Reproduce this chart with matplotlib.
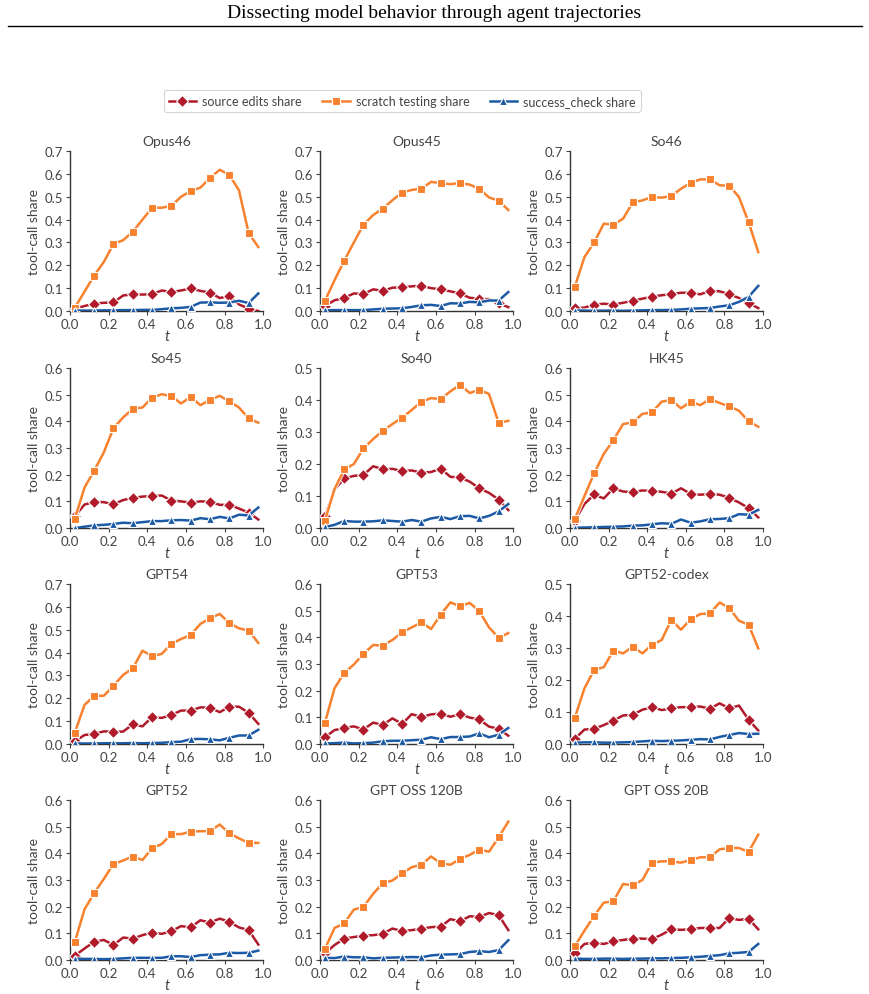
#!/usr/bin/env python
"""Tool-call share over normalized trajectory time, one panel per model."""
import matplotlib
matplotlib.use("Agg")
import matplotlib.pyplot as plt
from matplotlib.lines import Line2D

t = [0.025, 0.075, 0.125, 0.175, 0.225, 0.275, 0.325, 0.375, 0.425, 0.475,
     0.525, 0.575, 0.625, 0.675, 0.725, 0.775, 0.825, 0.875, 0.925, 0.975]

models = ["Opus46", "Opus45", "So46", "So45", "So40", "HK45",
          "GPT54", "GPT53", "GPT52-codex", "GPT52", "GPT OSS 120B", "GPT OSS 20B"]
ymax = [0.7, 0.7, 0.7, 0.6, 0.5, 0.6, 0.7, 0.6, 0.5, 0.6, 0.6, 0.6]

# source edits share
src = {
    "Opus46": [0.010, 0.022, 0.032, 0.036, 0.038, 0.068, 0.073, 0.072, 0.074, 0.090,
               0.083, 0.090, 0.099, 0.088, 0.081, 0.057, 0.065, 0.029, 0.010, 0.000],
    "Opus45": [0.022, 0.047, 0.057, 0.077, 0.074, 0.095, 0.088, 0.102, 0.104, 0.108,
               0.111, 0.100, 0.095, 0.086, 0.077, 0.058, 0.054, 0.052, 0.034, 0.017],
    "So46": [0.012, 0.015, 0.028, 0.032, 0.028, 0.036, 0.045, 0.054, 0.063, 0.069,
             0.074, 0.080, 0.080, 0.073, 0.089, 0.086, 0.074, 0.057, 0.034, 0.013],
    "So45": [0.045, 0.088, 0.098, 0.097, 0.089, 0.105, 0.113, 0.118, 0.120, 0.122,
             0.103, 0.100, 0.095, 0.100, 0.099, 0.087, 0.087, 0.073, 0.058, 0.032],
    "So40": [0.037, 0.120, 0.155, 0.163, 0.166, 0.193, 0.184, 0.185, 0.178, 0.180,
             0.173, 0.175, 0.186, 0.160, 0.158, 0.145, 0.124, 0.110, 0.089, 0.056],
    "HK45": [0.028, 0.090, 0.126, 0.111, 0.149, 0.137, 0.134, 0.141, 0.139, 0.136,
             0.129, 0.149, 0.128, 0.125, 0.128, 0.125, 0.113, 0.096, 0.075, 0.040],
    "GPT54": [0.012, 0.039, 0.044, 0.055, 0.054, 0.054, 0.086, 0.077, 0.118, 0.114,
              0.127, 0.146, 0.146, 0.160, 0.159, 0.139, 0.163, 0.163, 0.136, 0.088],
    "GPT53": [0.025, 0.052, 0.060, 0.066, 0.054, 0.080, 0.071, 0.096, 0.075, 0.112,
              0.100, 0.111, 0.114, 0.102, 0.112, 0.099, 0.092, 0.065, 0.057, 0.031],
    "GPT52-codex": [0.016, 0.045, 0.047, 0.059, 0.073, 0.089, 0.091, 0.107, 0.115, 0.106,
                    0.111, 0.115, 0.115, 0.117, 0.110, 0.127, 0.111, 0.120, 0.076, 0.042],
    "GPT52": [0.016, 0.043, 0.068, 0.075, 0.056, 0.084, 0.080, 0.093, 0.103, 0.098,
              0.108, 0.127, 0.122, 0.149, 0.140, 0.155, 0.143, 0.122, 0.112, 0.058],
    "GPT OSS 120B": [0.025, 0.056, 0.080, 0.086, 0.091, 0.093, 0.098, 0.118, 0.108, 0.112,
                     0.117, 0.123, 0.125, 0.153, 0.145, 0.164, 0.161, 0.176, 0.168, 0.112],
    "GPT OSS 20B": [0.025, 0.060, 0.065, 0.060, 0.070, 0.075, 0.080, 0.080, 0.078, 0.095,
                    0.115, 0.113, 0.115, 0.120, 0.120, 0.120, 0.158, 0.150, 0.155, 0.115],
}

# scratch testing share
scratch = {
    "Opus46": [0.015, 0.085, 0.155, 0.215, 0.293, 0.310, 0.347, 0.400, 0.452, 0.452,
               0.460, 0.500, 0.525, 0.540, 0.582, 0.618, 0.596, 0.528, 0.341, 0.280],
    "Opus45": [0.044, 0.135, 0.220, 0.300, 0.378, 0.420, 0.448, 0.485, 0.518, 0.530,
               0.535, 0.565, 0.560, 0.555, 0.560, 0.553, 0.535, 0.497, 0.483, 0.442],
    "So46": [0.106, 0.236, 0.300, 0.382, 0.378, 0.404, 0.475, 0.484, 0.499, 0.496,
             0.503, 0.535, 0.561, 0.576, 0.576, 0.550, 0.548, 0.499, 0.389, 0.258],
    "So45": [0.035, 0.152, 0.215, 0.284, 0.375, 0.415, 0.447, 0.452, 0.489, 0.502,
             0.494, 0.467, 0.492, 0.461, 0.480, 0.496, 0.475, 0.452, 0.411, 0.395],
    "So40": [0.023, 0.122, 0.183, 0.200, 0.249, 0.278, 0.304, 0.325, 0.345, 0.369,
             0.395, 0.406, 0.403, 0.427, 0.448, 0.422, 0.432, 0.419, 0.329, 0.335],
    "HK45": [0.034, 0.120, 0.205, 0.278, 0.330, 0.390, 0.396, 0.428, 0.434, 0.474,
             0.480, 0.449, 0.474, 0.461, 0.484, 0.469, 0.456, 0.440, 0.400, 0.380],
    "GPT54": [0.050, 0.171, 0.210, 0.211, 0.255, 0.302, 0.331, 0.408, 0.384, 0.394,
              0.438, 0.459, 0.477, 0.525, 0.550, 0.569, 0.529, 0.506, 0.496, 0.442],
    "GPT53": [0.079, 0.209, 0.266, 0.298, 0.338, 0.371, 0.369, 0.390, 0.419, 0.437,
              0.456, 0.431, 0.485, 0.531, 0.516, 0.529, 0.498, 0.437, 0.398, 0.416],
    "GPT52-codex": [0.082, 0.174, 0.231, 0.240, 0.292, 0.283, 0.304, 0.283, 0.310, 0.325,
                    0.388, 0.357, 0.390, 0.406, 0.408, 0.442, 0.425, 0.385, 0.373, 0.299],
    "GPT52": [0.068, 0.190, 0.251, 0.304, 0.360, 0.373, 0.388, 0.375, 0.419, 0.435,
              0.472, 0.472, 0.481, 0.483, 0.483, 0.508, 0.475, 0.456, 0.439, 0.439],
    "GPT OSS 120B": [0.041, 0.120, 0.137, 0.189, 0.199, 0.248, 0.288, 0.298, 0.325, 0.348,
                     0.357, 0.388, 0.363, 0.357, 0.379, 0.394, 0.414, 0.406, 0.460, 0.519],
    "GPT OSS 20B": [0.052, 0.110, 0.165, 0.215, 0.220, 0.285, 0.280, 0.300, 0.365, 0.370,
                    0.370, 0.365, 0.375, 0.385, 0.385, 0.415, 0.420, 0.420, 0.405, 0.470],
}

# success_check share
check = {
    "Opus46": [0.002, 0.002, 0.002, 0.003, 0.003, 0.004, 0.004, 0.005, 0.005, 0.008,
               0.012, 0.014, 0.018, 0.037, 0.038, 0.036, 0.037, 0.045, 0.035, 0.077],
    "Opus45": [0.003, 0.004, 0.004, 0.004, 0.004, 0.007, 0.010, 0.011, 0.012, 0.018,
               0.025, 0.027, 0.022, 0.034, 0.033, 0.040, 0.038, 0.046, 0.046, 0.083],
    "So46": [0.002, 0.002, 0.001, 0.002, 0.002, 0.001, 0.002, 0.003, 0.004, 0.004,
             0.005, 0.007, 0.010, 0.012, 0.013, 0.020, 0.025, 0.040, 0.062, 0.110],
    "So45": [0.000, 0.005, 0.010, 0.012, 0.015, 0.020, 0.018, 0.022, 0.026, 0.026,
             0.029, 0.030, 0.028, 0.037, 0.033, 0.042, 0.036, 0.050, 0.047, 0.077],
    "So40": [0.003, 0.010, 0.022, 0.020, 0.020, 0.021, 0.024, 0.022, 0.020, 0.025,
             0.020, 0.030, 0.035, 0.028, 0.037, 0.038, 0.030, 0.038, 0.052, 0.075],
    "HK45": [0.001, 0.002, 0.003, 0.004, 0.005, 0.006, 0.009, 0.010, 0.014, 0.018,
             0.016, 0.032, 0.020, 0.025, 0.033, 0.034, 0.037, 0.052, 0.050, 0.068],
    "GPT54": [0.002, 0.002, 0.002, 0.003, 0.003, 0.003, 0.004, 0.003, 0.004, 0.005,
              0.008, 0.010, 0.021, 0.022, 0.020, 0.016, 0.027, 0.037, 0.037, 0.062],
    "GPT53": [0.002, 0.003, 0.005, 0.002, 0.003, 0.005, 0.010, 0.012, 0.012, 0.014,
              0.016, 0.025, 0.018, 0.026, 0.026, 0.028, 0.040, 0.025, 0.035, 0.060],
    "GPT52-codex": [0.004, 0.005, 0.005, 0.004, 0.004, 0.005, 0.006, 0.008, 0.010, 0.009,
                    0.010, 0.011, 0.013, 0.015, 0.014, 0.022, 0.028, 0.034, 0.031, 0.032],
    "GPT52": [0.005, 0.004, 0.004, 0.003, 0.004, 0.006, 0.008, 0.008, 0.008, 0.008,
              0.014, 0.014, 0.011, 0.018, 0.020, 0.021, 0.027, 0.026, 0.027, 0.035],
    "GPT OSS 120B": [0.008, 0.007, 0.013, 0.010, 0.010, 0.006, 0.008, 0.009, 0.010, 0.011,
                     0.010, 0.017, 0.020, 0.021, 0.022, 0.030, 0.033, 0.030, 0.037, 0.074],
    "GPT OSS 20B": [0.005, 0.004, 0.004, 0.005, 0.005, 0.004, 0.005, 0.005, 0.006, 0.006,
                    0.007, 0.008, 0.010, 0.012, 0.015, 0.018, 0.025, 0.027, 0.030, 0.060],
}

series = [
    ("source edits share", src, "#b01a2a", "D", 6.0),
    ("scratch testing share", scratch, "#f8812e", "s", 6.0),
    ("success_check share", check, "#1c5aa6", "^", 5.5),
]

plt.rcParams["font.family"] = ["Lato", "DejaVu Sans"]
text_gray = "#444444"

fig = plt.figure(figsize=(8.69, 9.95), dpi=100)
fig.text(0.5, 0.986, "Dissecting model behavior through agent trajectories",
         ha="center", va="center", fontsize=14, family="Liberation Serif", color="black")
fig.add_artist(Line2D([0.009, 0.992], [0.9725, 0.9725], color="black", lw=1.0))

lefts = [0.0806, 0.3683, 0.6559]
bottoms = [0.6864, 0.4683, 0.2513, 0.0342]
w, h = 0.2222, 0.1608

for i, name in enumerate(models):
    ax = fig.add_axes([lefts[i % 3], bottoms[i // 3], w, h])
    for k, (label, data, color, marker, ms) in enumerate(series):
        # thin white halo under each line, then the coloured line with markers
        ax.plot(t, data[name], color="white", lw=3.2, alpha=0.9,
                solid_capstyle="round", zorder=2 + 2 * k)
        ax.plot(t, data[name], color=color, lw=1.8, marker=marker, ms=ms,
                markevery=2, mec="white", mew=0.8, zorder=3 + 2 * k)
    ax.set_xlim(0, 1)
    ax.set_ylim(0, ymax[i])
    nt = int(round(ymax[i] * 10)) + 1
    ax.set_xticks([0, 0.2, 0.4, 0.6, 0.8, 1.0])
    ax.set_yticks([k / 10 for k in range(nt)])
    ax.set_xticklabels(["0.0", "0.2", "0.4", "0.6", "0.8", "1.0"])
    ax.set_yticklabels([f"{k / 10:.1f}" for k in range(nt)])
    ax.spines["top"].set_visible(False)
    ax.spines["right"].set_visible(False)
    for s in ("left", "bottom"):
        ax.spines[s].set_color("#333333")
        ax.spines[s].set_linewidth(1.0)
    ax.tick_params(labelsize=9.5, colors=text_gray, length=3, width=0.8, pad=2)
    ax.set_title(name, fontsize=10, color=text_gray, pad=4)
    ax.set_ylabel("tool-call share", fontsize=10, color=text_gray, labelpad=3)
    ax.set_xlabel("t", fontsize=10.5, color=text_gray, style="italic", labelpad=-1)

handles = [Line2D([], [], color=c, lw=1.8, marker=m, ms=ms, mec="white", mew=0.8)
           for _, _, c, m, ms in series]
leg = fig.legend(handles, [s[0] for s in series], loc="center", ncol=3,
                 bbox_to_anchor=(0.463, 0.8975), fontsize=9, frameon=True,
                 handlelength=2.2, columnspacing=1.6, handletextpad=0.5)
leg.get_frame().set_edgecolor("#cccccc")
leg.get_frame().set_linewidth(0.8)
for txt in leg.get_texts():
    txt.set_color(text_gray)

fig.savefig("out.png", dpi=100)
